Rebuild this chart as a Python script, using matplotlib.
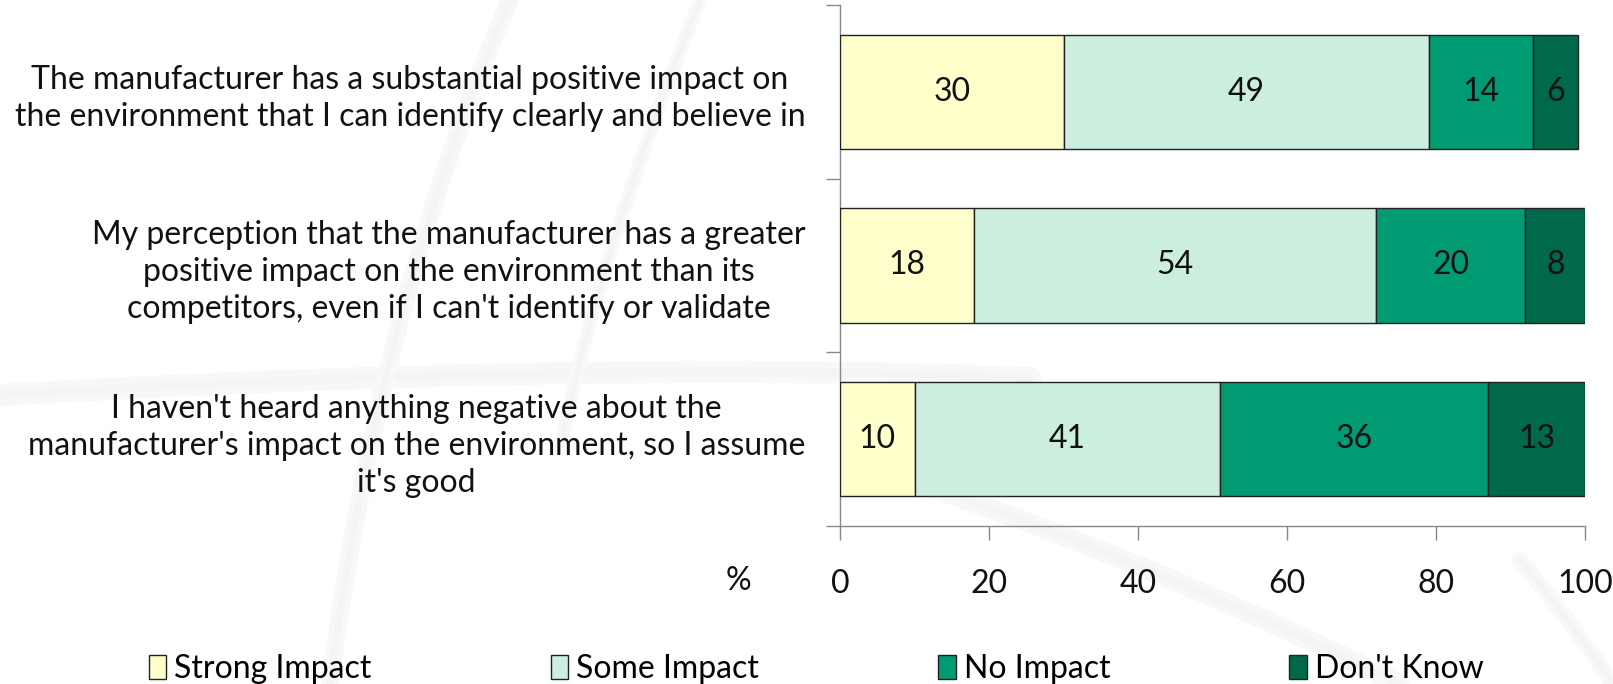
import numpy as np
import matplotlib
matplotlib.use("Agg")
import matplotlib.pyplot as plt
from matplotlib.patches import Patch

plt.rcParams['font.family'] = ['Lato', 'DejaVu Sans']

statements = [
    "The manufacturer has a substantial positive impact on\nthe environment that I can identify clearly and believe in",
    "My perception that the manufacturer has a greater\npositive impact on the environment than its\ncompetitors, even if I can't identify or validate",
    "I haven't heard anything negative about the\nmanufacturer's impact on the environment, so I assume\nit's good",
]
series = ["Strong Impact", "Some Impact", "No Impact", "Don't Know"]
strong = [30, 18, 10]
some = [49, 54, 41]
none_ = [14, 20, 36]
dont_know = [6, 8, 13]
colors = ["#FFFFCC", "#CCEEDF", "#009A73", "#00684B"]
xticks = [0, 20, 40, 60, 80, 100]

FS = 23

fig = plt.figure(figsize=(16.13, 6.84), dpi=100)

# faint swirl watermark behind the chart
bg = fig.add_axes([0, 0, 1, 1], zorder=-1)
bg.set_xlim(0, 1613)
bg.set_ylim(684, 0)
bg.axis("off")
t = np.linspace(0, 1, 200)
swirls = [
    ((0, 395), (600, 360), (1030, 378), 10),
    ((510, 0), (380, 300), (330, 684), 8),
    ((700, 0), (600, 250), (560, 450), 6),
    ((880, 470), (1150, 560), (1400, 684), 9),
    ((1520, 560), (1570, 620), (1613, 684), 7),
]
for p0, p1, p2, w in swirls:
    xs = (1 - t) ** 2 * p0[0] + 2 * (1 - t) * t * p1[0] + t ** 2 * p2[0]
    ys = (1 - t) ** 2 * p0[1] + 2 * (1 - t) * t * p1[1] + t ** 2 * p2[1]
    bg.plot(xs, ys, color="#f8f8f8", lw=w * 1.6, solid_capstyle="round")
    bg.plot(xs, ys, color="#f4f4f4", lw=w * 0.6, solid_capstyle="round")

ax = fig.add_axes([0.5208, 0.2310, 0.4619, 0.7617])
ax.patch.set_alpha(0)

y = np.arange(len(statements))
left = np.zeros(len(statements))
for name, vals, col in zip(series, [strong, some, none_, dont_know], colors):
    vals = np.array(vals, dtype=float)
    ax.barh(y, vals, left=left, height=0.66, color=col, edgecolor="#222222",
            linewidth=1.0, label=name, zorder=3)
    for yi, l, v in zip(y, left, vals):
        ax.text(l + v / 2, yi, f"{v:.0f}", ha="center", va="center",
                fontsize=FS, color="#111111", zorder=4)
    left += vals

ax.set_xlim(0, 100)
ax.set_ylim(2.5, -0.5)
ax.set_xticks(xticks)
ax.set_xticklabels([str(t) for t in xticks])
ax.tick_params(axis="x", length=10, width=1, color="#888888", pad=21,
               labelsize=FS, labelcolor="#111111")

# category boundaries get the tick marks, labels sit on minor ticks
ax.set_yticks([-0.5, 0.5, 1.5, 2.5])
ax.set_yticklabels([])
ax.set_yticks(y, minor=True)
ax.set_yticklabels(statements, minor=True)
ax.tick_params(axis="y", which="major", length=10, width=1, color="#888888")
ax.tick_params(axis="y", which="minor", length=0, pad=25, labelsize=FS,
               labelcolor="#111111")
for lab in ax.get_yticklabels(minor=True):
    lab.set_multialignment("center")
    lab.set_linespacing(1.3)

for s in ["top", "right"]:
    ax.spines[s].set_visible(False)
for s in ["left", "bottom"]:
    ax.spines[s].set_color("#888888")
    ax.spines[s].set_linewidth(1)

ax.set_xlabel("%", fontsize=FS, color="#111111")
ax.xaxis.set_label_coords(-0.137, -0.105)
ax.xaxis.label.set_va("center")

handles = [Patch(facecolor=c, edgecolor="#222222", linewidth=1) for c in colors]
fig.legend(handles, series, loc="center", bbox_to_anchor=(0.506, 0.022),
           ncol=4, frameon=False, fontsize=FS, handlelength=0.55,
           handleheight=0.8, handletextpad=0.25, columnspacing=5.6)

fig.savefig("out.png", dpi=100, facecolor="white")
